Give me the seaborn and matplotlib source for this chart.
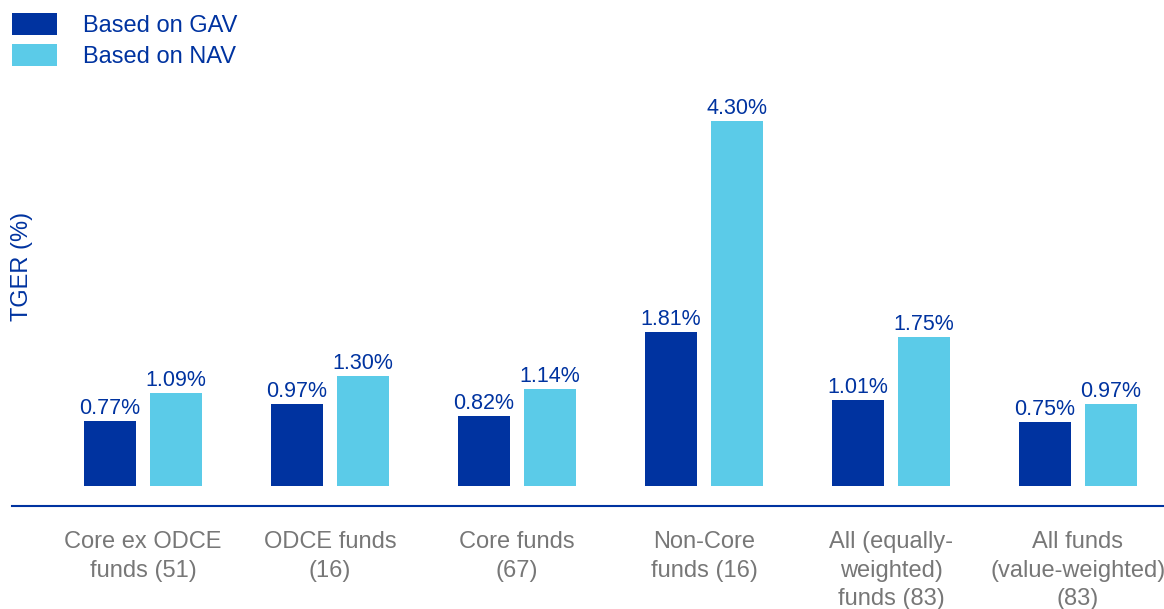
import matplotlib
matplotlib.use("Agg")
import matplotlib.pyplot as plt
import seaborn as sns
import pandas as pd

categories = ["Core ex ODCE\nfunds (51)", "ODCE funds\n(16)", "Core funds\n(67)",
              "Non-Core\nfunds (16)", "All (equally-\nweighted)\nfunds (83)",
              "All funds\n(value-weighted)\n(83)"]
gav = [0.77, 0.97, 0.82, 1.81, 1.01, 0.75]
nav = [1.09, 1.30, 1.14, 4.30, 1.75, 0.97]
series = ["Based on GAV", "Based on NAV"]

df = pd.DataFrame({
    "cat": categories * 2,
    "val": gav + nav,
    "basis": [series[0]] * len(categories) + [series[1]] * len(categories),
})

sns.set_theme(style="white")
plt.rcParams["font.family"] = ["Liberation Sans", "DejaVu Sans"]

DARK = "#0033A0"
LIGHT = "#5BCBE8"
GREY = "#777777"

W, H = 1164, 609
fig = plt.figure(figsize=(W / 100, H / 100), dpi=100)
ax = fig.add_axes([12 / W, (H - 506) / H, 1 - 12 / W, (506 - 80) / H])

sns.barplot(data=df, x="cat", y="val", hue="basis", palette=[DARK, LIGHT],
            saturation=1, width=0.706, gap=0.212, linewidth=0, ax=ax)

ax.set_xlim((12 - 143) / 187, (1164 - 143) / 187)
ppu = (486 - 121) / 4.30
ax.set_ylim(-(506 - 486) / ppu, (486 - 80) / ppu)

for c in ax.containers:
    ax.bar_label(c, fmt="{:.2f}%", padding=1.5, fontsize=15.5, color=DARK)

for s in ["top", "left", "right"]:
    ax.spines[s].set_visible(False)
ax.spines["bottom"].set_color(DARK)
ax.spines["bottom"].set_linewidth(1.5)
ax.set_yticks([])
ax.set_xlabel("")
ax.tick_params(axis="x", length=0, pad=18, labelsize=17, labelcolor=GREY)
for t in ax.get_xticklabels():
    t.set_linespacing(1.39)

ax.set_ylabel("TGER (%)", fontsize=17, color=DARK)
ax.yaxis.label.set_va("center")
ax.yaxis.set_label_coords((22 - 12) / (W - 12), (506 - 266) / (506 - 80))

handles, labels = ax.get_legend_handles_labels()
ax.legend(handles, labels, loc="upper left", bbox_to_anchor=(12 / W, 1 - 13 / H),
          bbox_transform=fig.transFigure, frameon=False, fontsize=17,
          handlelength=1.9, handleheight=1.05, handletextpad=1.1,
          labelspacing=0.3, borderpad=0, borderaxespad=0, labelcolor=DARK)

fig.savefig("out.png", dpi=100)
